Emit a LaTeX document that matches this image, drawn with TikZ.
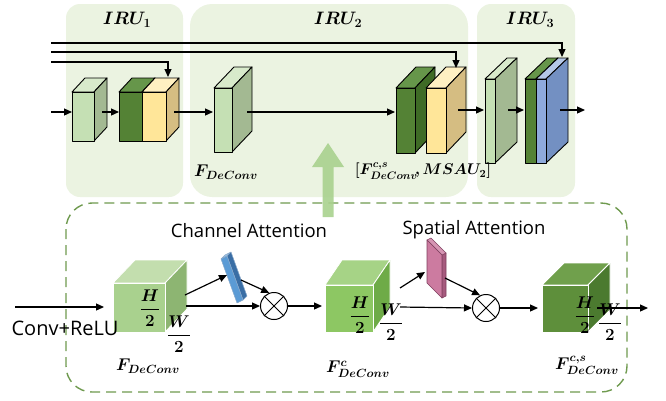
\RequirePackage{fix-cm}
\documentclass[tikz,border=0pt]{standalone}
\usepackage{amsmath,bm}
\usepackage{fontspec}
\setsansfont{Open Sans}
\usetikzlibrary{arrows.meta}

\definecolor{panel}{HTML}{EBF3E1}
\definecolor{lgF}{HTML}{C5E0B4}\definecolor{lgS}{HTML}{A3B992}\definecolor{lgT}{HTML}{D8EACB}
\definecolor{dgF}{HTML}{548235}\definecolor{dgS}{HTML}{3F6B26}\definecolor{dgT}{HTML}{66964A}
\definecolor{ywF}{HTML}{FFE699}\definecolor{ywS}{HTML}{D5BD82}\definecolor{ywT}{HTML}{FFF0C2}
\definecolor{blF}{HTML}{8FAADC}\definecolor{blS}{HTML}{7390C2}\definecolor{blT}{HTML}{B4C7E7}
\definecolor{c1F}{HTML}{A9D18E}\definecolor{c1S}{HTML}{8DB572}\definecolor{c1T}{HTML}{C3DEAE}
\definecolor{c2F}{HTML}{8DC763}\definecolor{c2S}{HTML}{6EAB47}\definecolor{c2T}{HTML}{A6D386}
\definecolor{c3F}{HTML}{5E8F3B}\definecolor{c3S}{HTML}{4B7A2F}\definecolor{c3T}{HTML}{70A04C}
\definecolor{dashgreen}{HTML}{6F9A4F}
\definecolor{rodF}{HTML}{5B9BD5}\definecolor{rodS}{HTML}{3A6EA5}\definecolor{rodT}{HTML}{9DC3E6}
\definecolor{plF}{HTML}{CC7BA0}\definecolor{plS}{HTML}{A65A7E}\definecolor{plE}{HTML}{7F3F5E}
\definecolor{bigarrow}{HTML}{A9D18E}

% cuboid: x, y (front top-left), w, h, dx, dy (depth), front, side, top
\newcommand\cuboid[9]{%
  \filldraw[fill=#9] (#1,#2) -- ++(#5,#6) -- ++(#3,0) -- ++(-#5,-#6) -- cycle;
  \filldraw[fill=#8] (#1+#3,#2) -- ++(#5,#6) -- ++(0,#4) -- ++(-#5,-#6) -- cycle;
  \filldraw[fill=#7] (#1,#2) rectangle ++(#3,#4);
}

\tikzset{
  arr/.style={line width=1.2pt,-{Triangle[length=8pt,width=7pt]}},
  blk/.style={draw=black,line width=0.9pt,line join=round},
  cube/.style={draw=white,line width=0.8pt,line join=round},
  mlab/.style={inner sep=0pt,font=\fontsize{17}{20}\selectfont},
  catlab/.style={inner sep=0pt,font=\fontsize{15.5}{18}\selectfont},
  frac/.style={inner sep=0pt,font=\fontsize{17}{20}\selectfont},
  title/.style={inner sep=0pt,font=\fontsize{18}{21}\selectfont},
  sans/.style={inner sep=0pt,font=\sffamily\fontsize{18.5}{22}\selectfont},
  otimes/.style={circle,draw=black,line width=1pt,minimum size=27pt,inner sep=0pt},
}

\begin{document}
\begin{tikzpicture}[x=1pt,y=-1pt]
\useasboundingbox (0,0) rectangle (666,400);

% unit panels
\fill[panel,rounded corners=14pt] (66,4) rectangle (183,197);
\fill[panel,rounded corners=22pt] (190,4) rectangle (468,197);
\fill[panel,rounded corners=14pt] (477,4) rectangle (575,197);
\node[title] (iru1) at (127,20) {$\boldsymbol{IRU_1}$};
\node[title] (iru2) at (338,20) {$\boldsymbol{IRU_2}$};
\node[title] (iru3) at (530,20) {$\boldsymbol{IRU_3}$};

% blocks of the three units
\begin{scope}[blk]
  \cuboid{72}{92}{22}{49}{13}{-14}{lgF}{lgS}{lgT}
  \cuboid{119}{92}{23}{49}{13}{-14}{dgF}{dgS}{dgT}
  \cuboid{142}{92}{24}{49}{13}{-14}{ywF}{ywS}{ywT}
  \cuboid{214}{88}{18}{64}{20}{-21}{lgF}{lgS}{lgT}
  \cuboid{396}{88}{19}{65}{20}{-21}{dgF}{dgS}{dgT}
  \cuboid{426}{88}{20}{65}{20}{-21}{ywF}{ywS}{ywT}
  \cuboid{485}{79}{10}{84}{22}{-21}{lgF}{lgS}{lgT}
  \cuboid{525}{79}{11}{84}{22}{-21}{dgF}{dgS}{dgT}
  \cuboid{536}{79}{10}{84}{22}{-21}{blF}{blS}{blT}
\end{scope}

% skip connections
\coordinate (s1) at (51,43);  \coordinate (s1c) at (562,43); \coordinate (s1e) at (562,57);
\coordinate (s2) at (51,52);  \coordinate (s2c) at (456,52); \coordinate (s2e) at (456,68);
\coordinate (s3) at (51,62);  \coordinate (s3c) at (168,62); \coordinate (s3e) at (168,77);
\draw[arr] (s1) -- (s1c) -- (s1e);
\draw[arr] (s2) -- (s2c) -- (s2e);
\draw[arr] (s3) -- (s3c) -- (s3e);

% main flow
\coordinate (m0) at (51,112);  \coordinate (m1) at (72,112);
\coordinate (m2) at (102,112); \coordinate (m3) at (119,112);
\coordinate (m4) at (174,112); \coordinate (m5) at (213,112);
\coordinate (m6) at (247,112); \coordinate (m7) at (395,112);
\coordinate (m8) at (458,110); \coordinate (m9) at (484,110);
\coordinate (m10) at (508,110); \coordinate (m11) at (524,110);
\coordinate (m12) at (560,110); \coordinate (m13) at (585,110);
\draw[arr] (m0) -- (m1);
\draw[arr] (m2) -- (m3);
\draw[arr] (m4) -- (m5);
\draw[arr] (m6) -- (m7);
\draw[arr] (m8) -- (m9);
\draw[arr] (m10) -- (m11);
\draw[arr] (m12) -- (m13);

\node[mlab] (fdec) at (226,172) {$\boldsymbol{F_{DeConv}}$};
\node[catlab] (fcat) at (423,171) {$\boldsymbol{[F^{c,s}_{DeConv}\!,MSAU_2]}$};

% attention module frame
\draw[dashgreen,line width=1.4pt,dash pattern=on 10pt off 6pt,rounded corners=26pt]
  (66,203) rectangle (627,392);

% lift arrow into IRU_2
\fill[bigarrow,opacity=0.9] (322.5,217) -- (322.5,167) -- (312,167) -- (328,143)
  -- (344,167) -- (333.5,167) -- (333.5,217) -- cycle;

\node[sans] (ca) at (249,231) {Channel Attention};
\node[sans] (sa) at (474,230) {Spatial Attention};

% feature cubes
\begin{scope}[cube]
  \cuboid{113}{283}{52}{49}{22}{-23}{c1F}{c1S}{c1T}
  \cuboid{325}{285}{48}{47}{17}{-25}{c2F}{c2S}{c2T}
  \cuboid{542}{285}{46}{47}{22}{-22}{c3F}{c3S}{c3T}
\end{scope}

% channel attention vector
\begin{scope}[draw=rodS!60!white,line width=0.5pt,line join=round]
  \filldraw[fill=rodT] (221,259) -- (225,255) -- (231,252) -- (227,256) -- cycle;
  \filldraw[fill=rodS] (227,256) -- (231,252) -- (247,296) -- (243,300) -- cycle;
  \filldraw[fill=rodF] (221,259) -- (227,256) -- (243,300) -- (237,303) -- cycle;
\end{scope}

% spatial attention map
\begin{scope}[draw=plE,line width=0.6pt,line join=round]
  \filldraw[fill=plS] (442,255) -- (446,253) -- (446,296) -- (442,298) -- cycle;
  \filldraw[fill=plF!80!white] (427,240) -- (431,238) -- (446,253) -- (442,255) -- cycle;
  \filldraw[fill=plF] (427,240) -- (442,255) -- (442,298) -- (427,283) -- cycle;
\end{scope}

% element-wise products
\node[otimes] (ot1) at (274,306) {};
\draw[line width=1pt] (ot1.45) -- (ot1.225) (ot1.135) -- (ot1.315);
\node[otimes] (ot2) at (486,308) {};
\draw[line width=1pt] (ot2.45) -- (ot2.225) (ot2.135) -- (ot2.315);

% dimension labels
\node[frac] (h1) at (150,308) {$\boldsymbol{\dfrac{H}{2}}$};
\node[frac] (w1) at (179,334) {$\boldsymbol{\dfrac{W}{2}}$};
\node[frac] (h2) at (360,315) {$\boldsymbol{\dfrac{H}{2}}$};
\node[frac] (w2) at (391,322) {$\boldsymbol{\dfrac{W}{2}}$};
\node[frac] (h3) at (585,315) {$\boldsymbol{\dfrac{H}{2}}$};
\node[frac] (w3) at (610,322) {$\boldsymbol{\dfrac{W}{2}}$};

\node[mlab] (f1) at (148,366) {$\boldsymbol{F_{DeConv}}$};
\node[mlab] (f2) at (358,369) {$\boldsymbol{F^{c}_{DeConv}}$};
\node[mlab] (f3) at (587,365) {$\boldsymbol{F^{c,s}_{DeConv}}$};

% attention connectors
\coordinate (in0) at (15,307);  \coordinate (in1) at (104,307);
\coordinate (a1) at (185,295);  \coordinate (a2) at (227,275);
\coordinate (b1) at (186,306);
\coordinate (r1) at (241,280);
\coordinate (d1) at (400,288);  \coordinate (d2) at (425,272);
\coordinate (e1) at (400,307);
\coordinate (p1) at (445,278);
\coordinate (o1) at (322,306);
\coordinate (o2) at (538,308);
\coordinate (q1) at (597,308);  \coordinate (q2) at (648,308);

\draw[arr] (in0) -- (in1);
\draw[arr] (a1) -- (a2);
\draw[arr] (b1) -- (ot1.west);
\draw[arr] (r1) -- (ot1.110);
\draw[arr] (ot1.east) -- (o1);
\draw[arr] (d1) -- (d2);
\draw[arr] (e1) -- (ot2.west);
\draw[arr] (p1) -- (ot2.115);
\draw[arr] (ot2.east) -- (o2);
\draw[arr] (q1) -- (q2);

\node[sans,font=\sffamily\fontsize{20}{24}\selectfont] (conv) at (65,328) {Conv+ReLU};
\end{tikzpicture}
\end{document}
